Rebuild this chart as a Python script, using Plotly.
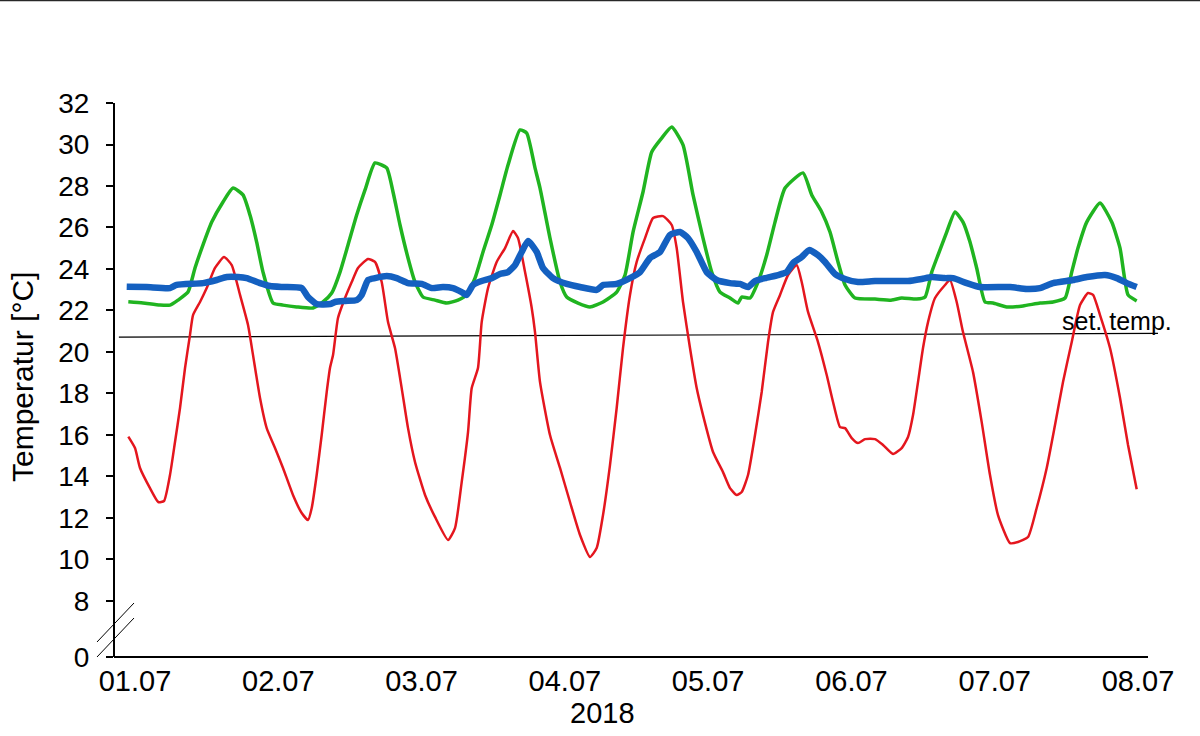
import plotly.graph_objects as go

# ---- data (hours since 01.07.2018 00:00, temperature in °C) ----
red_h = [-1.12, 0, 0.84, 2.51, 3.90, 4.86, 5.86, 6.70, 7.54, 8.38, 9.21, 9.72, 10.89, 12.01, 13.40, 14.91,
         16.20, 17.59, 18.93, 19.77, 20.94, 22.06, 23.45, 24.79, 26.46, 27.92, 28.98, 29.60, 30.43, 31.27,
         32.11, 32.66, 33.17, 34.00, 35.18, 36.30, 37.35, 39.03, 40.20, 41.32, 42.38, 43.55, 44.67, 45.73,
         46.90, 48.58, 50.25, 52.43, 53.60, 54.72, 55.78, 56.40, 57.45, 58.07, 59.13, 60.58, 61.98, 63.32,
         64.15, 65.33, 66.45, 67.00, 67.84, 69.51, 71.19, 72.86, 74.54, 76.21, 77.33, 78.39, 79.56, 80.68,
         81.74, 82.91, 84.03, 85.43, 86.77, 88.44, 89.90, 90.73, 91.79, 92.96, 94.08, 95.14, 96.82, 98.49,
         99.66, 100.78, 101.62, 102.68, 103.85, 104.97, 106.03, 106.87, 108.04, 109.38, 110.83, 111.67,
         112.73, 114.40, 115.86, 116.92, 118.09, 118.93, 120.05, 121.10, 122.28, 123.95, 125.29, 126.97,
         128.42, 129.48, 130.32, 131.15, 131.99, 132.83, 134.00, 135.68, 136.51, 137.63, 138.69, 140.37,
         141.82, 143.21, 144.55, 146.56, 147.90, 149.58, 151.03, 152.71, 154.10, 155.44, 156.90, 158.29,
         159.63, 160.47, 161.64, 163.31, 164.99, 166.33, 167.78]
red_t = [15.92, 15.37, 14.41, 13.44, 12.77, 12.82, 14.07, 15.66, 17.30, 19.23, 20.82, 21.78, 22.41, 23.08, 24.05, 24.58,
         24.19, 22.75, 21.30, 19.85, 17.78, 16.33, 15.37, 14.41, 13.11, 12.24, 11.90, 12.48, 14.07, 16.00,
         18.07, 19.23, 19.85, 21.64, 22.60, 23.37, 24.05, 24.48, 24.34, 23.37, 21.44, 20.19, 18.26, 16.33,
         14.70, 13.11, 12.05, 10.94, 11.51, 13.73, 16.14, 18.26, 19.23, 21.44, 23.08, 24.34, 25.01, 25.83,
         25.49, 23.85, 22.12, 20.96, 18.55, 16.00, 14.41, 12.77, 11.18, 10.12, 10.55, 12.14, 14.55, 17.30,
         20.19, 22.75, 24.34, 25.49, 26.46, 26.55, 26.12, 25.01, 22.41, 20.19, 18.26, 16.96, 15.18, 14.21,
         13.44, 13.11, 13.25, 14.07, 16.00, 18.07, 20.48, 21.93, 22.75, 23.71, 24.19, 23.37,
         21.93, 20.48, 18.89, 17.59, 16.38, 16.33, 15.85, 15.61, 15.80, 15.80, 15.52, 15.08,
         15.37, 15.90, 16.96, 18.55, 20.19, 21.44, 22.60, 23.23, 23.47, 22.41, 20.96, 19.03,
         16.62, 14.07, 12.14, 10.79, 10.84, 11.08, 12.48, 14.41, 16.48, 18.55, 20.48, 22.26,
         22.84, 22.75, 21.78, 20.19, 17.78, 15.52, 13.38]

green_h = [-1.12, 1.34, 4.19, 5.86, 7.20, 8.88, 10.05, 11.39, 12.85, 14.74, 16.42, 18.09, 19.26, 20.38, 21.44,
           23.12, 24.79, 27.08, 29.82, 31.49, 32.95, 34.34, 35.68, 37.13, 38.53, 40.20, 42.16, 43.22, 44.39,
           45.73, 46.90, 48.24, 50.25, 52.21, 54.10, 55.56, 56.95, 58.29, 59.75, 61.14, 62.48, 64.49, 65.61,
           67.00, 67.84, 69.51, 71.19, 72.31, 74.20, 76.21, 78.39, 80.68, 82.08, 83.42, 85.09, 86.55, 88.22,
           89.90, 91.79, 93.47, 95.14, 96.60, 97.99, 99.66, 101.00, 101.62, 103.01, 104.35, 105.81, 107.20,
           108.88, 111.89, 113.35, 115.02, 116.41, 117.75, 118.93, 120.60, 123.95, 126.75, 128.42, 130.93,
           132.33, 133.45, 134.50, 135.96, 137.35, 138.69, 139.86, 140.98, 142.38, 143.72, 146.01, 148.74,
           151.59, 153.77, 155.78, 156.90, 157.95, 159.41, 161.64, 163.60, 164.99, 166.33, 167.78]
green_t = [22.42, 22.36, 22.26, 22.26, 22.50, 22.89, 24.05, 25.16, 26.26, 27.23, 27.90, 27.57, 26.60, 25.30, 23.85,
           22.36, 22.26, 22.17, 22.12, 22.41, 22.84, 23.85, 25.16, 26.60, 27.81, 29.11, 28.87, 27.71, 26.12,
           24.53, 23.37, 22.65, 22.50, 22.36, 22.50, 22.75, 23.56, 24.82, 26.12, 27.57, 29.01, 30.70, 30.55,
           28.87, 27.90, 25.49, 23.37, 22.65, 22.36, 22.17, 22.41, 22.89, 23.71, 25.78, 27.71, 29.64, 30.31,
           30.84, 29.98, 27.57, 25.49, 23.85, 22.89, 22.60, 22.36, 22.65, 22.60, 23.37, 24.67, 26.26,
           27.90, 28.63, 27.57, 26.75, 25.78, 24.34, 23.23, 22.60, 22.55, 22.50, 22.60, 22.55,
           22.65, 23.85, 24.67, 25.78, 26.75, 26.26, 25.30, 24.05, 22.41, 22.36, 22.17, 22.22,
           22.36, 22.41, 22.60, 23.85, 25.01, 26.26, 27.18, 26.26, 25.01, 22.75, 22.46]

blue_h = [-1.39, 1.96, 5.86, 6.98, 11.39, 13.68, 15.36, 17.25, 18.71, 20.94, 22.61, 24.79, 27.92, 28.98, 30.43,
          32.66, 33.50, 35.18, 37.13, 37.97, 39.03, 40.20, 42.16, 43.83, 45.73, 48.02, 49.70, 51.59, 53.27,
          54.72, 55.56, 56.62, 58.07, 59.75, 61.14, 62.48, 63.65, 64.77, 65.83, 67.28, 68.34, 70.01, 72.31,
          74.54, 77.33, 78.39, 80.68, 82.91, 84.59, 86.26, 87.94, 89.61, 91.29, 92.63, 94.08, 95.76, 97.43,
          99.66, 101.34, 102.68, 103.85, 105.53, 107.70, 109.16, 110.22, 111.67, 112.90, 114.40, 115.58,
          117.25, 118.93, 121.10, 123.95, 127.30, 129.48, 131.77, 133.45, 135.68, 137.02, 139.32, 141.54,
          146.56, 149.35, 151.59, 153.77, 157.11, 159.41, 162.49, 164.45, 166.13, 167.78]
blue_t = [23.15, 23.13, 23.08, 23.23, 23.32, 23.47, 23.61, 23.61, 23.56, 23.32, 23.18, 23.13, 23.08, 22.65, 22.31,
          22.31, 22.41, 22.46, 22.50, 22.75, 23.47, 23.56, 23.66, 23.56, 23.32, 23.28, 23.08, 23.13, 23.08,
          22.89, 22.75, 23.23, 23.42, 23.56, 23.76, 23.85, 24.19, 24.82, 25.35, 24.82, 24.05, 23.56, 23.28,
          23.13, 22.99, 23.23, 23.28, 23.56, 23.85, 24.53, 24.82, 25.64, 25.78, 25.49, 24.82, 23.85, 23.47,
          23.32, 23.28, 23.13, 23.42, 23.56, 23.71, 23.85, 24.29, 24.58, 24.91, 24.67, 24.34,
          23.76, 23.52, 23.37, 23.42, 23.42, 23.42, 23.52, 23.61, 23.56, 23.56, 23.32, 23.13,
          23.13, 23.04, 23.08, 23.32, 23.47, 23.61, 23.71, 23.56, 23.32, 23.13]

set_h = [-2.7, 171.4]
set_t = [20.72, 20.90]

tick_hours = [0, 24, 48, 72, 96, 120, 144, 168]
tick_dates = ["01.07", "02.07", "03.07", "04.07", "05.07", "06.07", "07.07", "08.07"]
y_tickvals = [5.3, 8, 10, 12, 14, 16, 18, 20, 22, 24, 26, 28, 30, 32]
y_ticktext = ["0", "8", "10", "12", "14", "16", "18", "20", "22", "24", "26", "28", "30", "32"]

FONT = "Arial, Liberation Sans, sans-serif"

fig = go.Figure()
fig.add_trace(go.Scatter(x=set_h, y=set_t, mode="lines", line=dict(color="black", width=1.2), showlegend=False))
fig.add_trace(go.Scatter(x=red_h, y=red_t, mode="lines",
                         line=dict(color="rgb(228,22,30)", width=2.5, shape="spline", smoothing=0.5), showlegend=False))
fig.add_trace(go.Scatter(x=green_h, y=green_t, mode="lines",
                         line=dict(color="rgb(32,180,32)", width=3.5, shape="spline", smoothing=0.5), showlegend=False))
fig.add_trace(go.Scatter(x=blue_h, y=blue_t, mode="lines",
                         line=dict(color="rgb(20,96,192)", width=6.5, shape="spline", smoothing=0.5), showlegend=False))

L, R, T, B = 115, 42, 103, 79
W, H = 1200, 736
pw, ph = W - L - R, H - T - B

def px(xp):
    return (xp - L) / pw

def py(yp):
    return (H - B - yp) / ph

shapes = [
    # x axis base line
    dict(type="line", xref="paper", yref="paper", x0=px(114), x1=px(1148), y0=0, y1=0,
         line=dict(color="black", width=2)),
    # axis break marks
    dict(type="line", xref="paper", yref="paper", x0=px(97), y0=py(642), x1=px(134), y1=py(603),
         line=dict(color="black", width=1)),
    dict(type="line", xref="paper", yref="paper", x0=px(97), y0=py(657), x1=px(134), y1=py(618),
         line=dict(color="black", width=1)),
    # top border line
    dict(type="line", xref="paper", yref="paper", x0=px(0), y0=py(0.5), x1=px(1200), y1=py(0.5),
         line=dict(color="rgb(40,40,40)", width=1.5)),
]

fig.update_layout(
    width=W, height=H,
    margin=dict(l=L, r=R, t=T, b=B),
    paper_bgcolor="white", plot_bgcolor="white",
    font=dict(family=FONT, color="black"),
    shapes=shapes,
    showlegend=False,
    xaxis=dict(range=[-3.35, 171.35], tickvals=tick_hours, ticktext=tick_dates,
               showgrid=False, zeroline=False, showline=False, ticks="",
               tickfont=dict(size=29, family=FONT, color="black"), ticklabelstandoff=4),
    yaxis=dict(range=[5.3, 32], tickvals=y_tickvals, ticktext=y_ticktext,
               showgrid=False, zeroline=False, showline=True, linecolor="black", linewidth=2,
               ticks="outside", ticklen=7, tickwidth=2, tickcolor="black",
               tickfont=dict(size=28, family=FONT, color="black"), ticklabelstandoff=11),
    annotations=[
        dict(text="Temperatur [°C]", xref="paper", yref="paper", x=px(22), y=py(377),
             xanchor="center", yanchor="middle", textangle=-90, showarrow=False,
             font=dict(size=30, family=FONT, color="black")),
        dict(text="2018", xref="paper", yref="paper", x=px(602), y=py(713),
             xanchor="center", yanchor="middle", showarrow=False,
             font=dict(size=29, family=FONT, color="black")),
        dict(text="set. temp.", xref="x", yref="y", x=154.9, y=21.5,
             xanchor="left", yanchor="middle", showarrow=False,
             font=dict(size=25, family=FONT, color="black")),
    ],
)

fig.write_html("out.html")
